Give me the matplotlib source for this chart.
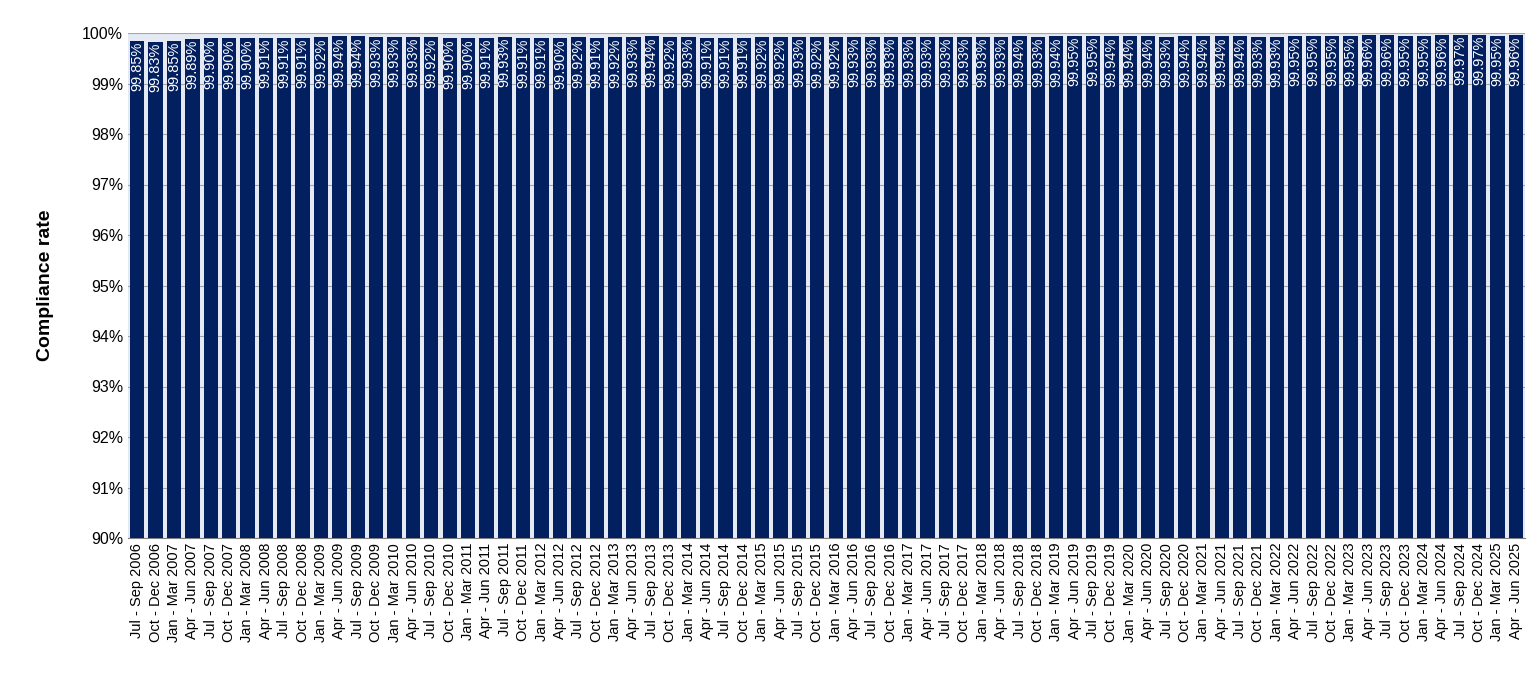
import matplotlib
matplotlib.use("Agg")
import matplotlib.pyplot as plt
from matplotlib.ticker import FuncFormatter

quarters = ["Jan - Mar", "Apr - Jun", "Jul - Sep", "Oct - Dec"]
labels = []
for y in range(2006, 2026):
    for qi, q in enumerate(quarters):
        if (y == 2006 and qi < 2) or (y == 2025 and qi > 1):
            continue
        labels.append(f"{q} {y}")

values = [99.85, 99.83, 99.85, 99.89, 99.90, 99.90, 99.90, 99.91, 99.91, 99.91,
          99.92, 99.94, 99.94, 99.93, 99.93, 99.93, 99.92, 99.90, 99.90, 99.91,
          99.93, 99.91, 99.91, 99.90, 99.92, 99.91, 99.92, 99.93, 99.94, 99.92,
          99.93, 99.91, 99.91, 99.91, 99.92, 99.92, 99.93, 99.92,
          99.92, 99.93, 99.93, 99.93, 99.93, 99.93, 99.93, 99.93, 99.93, 99.93,
          99.94, 99.93, 99.94, 99.95, 99.95, 99.94, 99.94, 99.94, 99.93, 99.94,
          99.94, 99.94, 99.94, 99.93, 99.93, 99.95, 99.95, 99.95, 99.95, 99.96,
          99.96, 99.95, 99.95, 99.96, 99.97, 99.97, 99.95, 99.96]

fig = plt.figure(figsize=(15.36, 6.9), dpi=100)
ax = fig.add_axes([128/1536, 1-538/690, (1525-128)/1536, (538-33)/690])
ax.set_facecolor("#e4e9f4")
x = range(len(values))
ax.bar(x, values, width=0.78, color="#021f5f", zorder=3)
ax.set_ylim(90, 100)
ax.set_xlim(-0.5, len(values)-0.5)
ax.set_yticks(range(90, 101))
ax.yaxis.set_major_formatter(FuncFormatter(lambda v, p: f"{v:.0f}%"))
ax.grid(axis="y", color="#a6a6a6", linewidth=0.8, zorder=0)
ax.set_xticks(list(x))
ax.set_xticklabels(labels, rotation=90, fontsize=10.5, family="Liberation Sans")
for t in ax.get_yticklabels():
    t.set_fontsize(11.5); t.set_family("Liberation Sans")
ax.tick_params(axis="both", length=0)
ax.set_ylabel("Compliance rate", fontsize=14, fontweight="bold", family="Liberation Sans", labelpad=20)
for s in ["top", "right", "left"]:
    ax.spines[s].set_visible(False)
ax.spines["bottom"].set_color("#808080")
for i, v in enumerate(values):
    ax.text(i, v - 0.03, f"{v:.2f}%", rotation=90, ha="center", va="top",
            color="white", fontsize=10.5, family="Liberation Sans", zorder=4)
fig.savefig("out.png", dpi=100)
